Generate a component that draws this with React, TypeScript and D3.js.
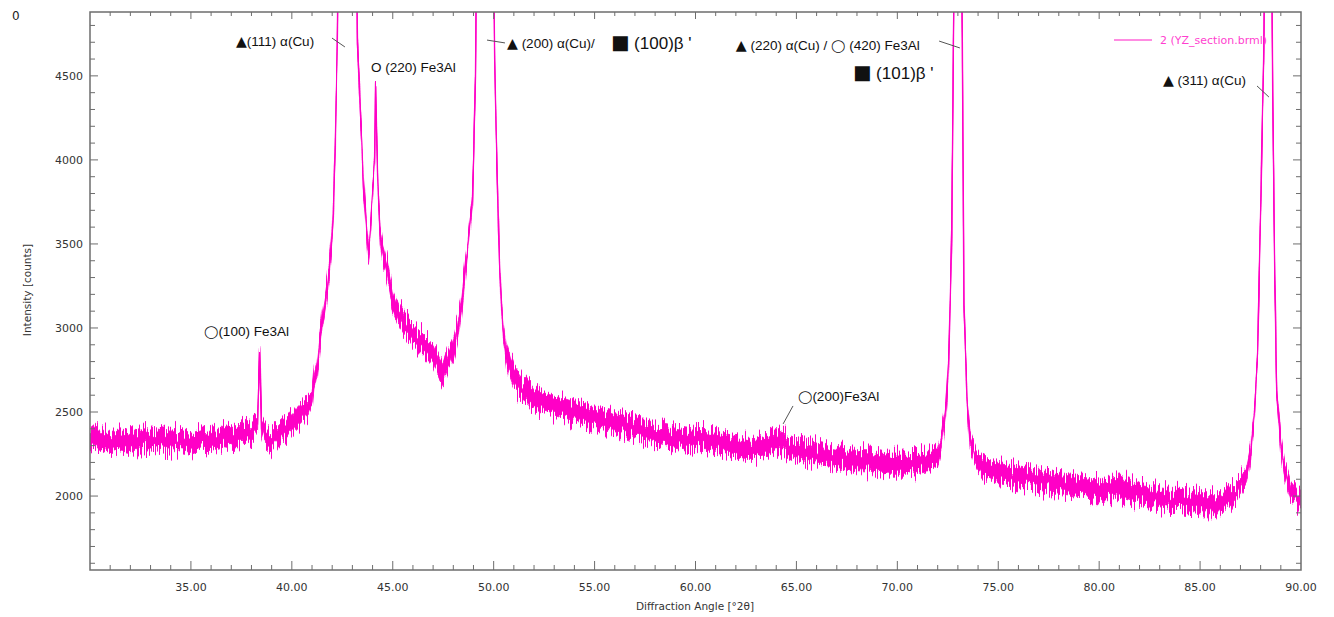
import * as d3 from 'd3';
import React from 'react';

// XRD scan: [angle °2θ, counts, noise half-width]
// off-scale peak tops get a large value and are clipped by the frame
const lowAngle: [number, number, number][] = [
  [30.0, 2360, 60], [30.5, 2350, 60], [31.0, 2330, 60], [31.5, 2340, 60],
  [32.0, 2330, 60], [32.5, 2320, 60], [33.0, 2340, 60], [33.5, 2330, 60],
  [34.0, 2320, 60], [34.5, 2330, 60], [35.0, 2320, 60], [35.5, 2340, 60],
  [36.0, 2330, 60], [36.5, 2350, 60], [37.0, 2340, 60], [37.5, 2370, 60],
  [38.0, 2390, 60], [38.3, 2420, 50], [38.4, 2880, 0], [38.5, 2420, 40],
  [38.7, 2360, 60], [39.0, 2330, 60], [39.5, 2390, 60], [40.0, 2430, 60],
  [40.5, 2490, 60], [40.8, 2530, 60], [41.0, 2580, 55],
];
const peak111: [number, number, number][] = [
  [41.1, 2700, 50], [41.25, 2790, 50], [41.5, 3050, 45], [41.75, 3230, 45],
  [41.9, 3400, 40], [42.05, 3680, 30], [42.15, 4060, 20], [42.25, 4700, 0],
  [42.3, 5200, 0], [42.75, 30000, 0], [43.2, 5200, 0], [43.25, 4700, 0],
  [43.4, 4300, 30], [43.55, 3850, 40], [43.7, 3600, 40], [43.8, 3430, 40],
  [43.9, 3600, 40], [44.0, 3820, 30], [44.1, 4000, 20], [44.15, 4450, 0],
  [44.25, 3900, 30], [44.37, 3550, 50],
];
const peak200: [number, number, number][] = [
  [44.5, 3450, 60], [44.72, 3350, 60], [45.0, 3170, 60], [45.3, 3080, 60],
  [45.66, 3010, 60], [46.0, 2960, 60], [46.36, 2920, 60], [46.7, 2880, 60],
  [47.0, 2840, 60], [47.3, 2760, 60], [47.5, 2720, 60], [47.7, 2790, 60],
  [48.0, 2880, 60], [48.2, 2980, 60], [48.35, 3100, 50], [48.5, 3250, 50],
  [48.7, 3460, 40], [48.95, 3760, 30], [49.1, 4500, 0], [49.15, 5200, 0],
  [49.55, 30000, 0], [50.0, 5200, 0], [50.05, 4600, 0], [50.18, 3850, 30],
  [50.3, 3350, 40], [50.48, 2980, 50], [50.65, 2830, 55], [50.82, 2760, 60],
];
const midAngle: [number, number, number][] = [
  [51.0, 2700, 60], [51.3, 2650, 60], [51.7, 2610, 60], [52.0, 2580, 60],
  [52.5, 2560, 60], [53.0, 2540, 60], [53.5, 2520, 60], [54.0, 2500, 60],
  [54.5, 2490, 60], [55.0, 2470, 60], [55.5, 2450, 60], [56.0, 2430, 60],
  [56.5, 2420, 60], [57.0, 2400, 60], [57.5, 2390, 60], [58.0, 2370, 60],
  [58.5, 2360, 60], [59.0, 2350, 60], [59.5, 2340, 60], [60.0, 2330, 60],
  [60.5, 2330, 60], [61.0, 2320, 60], [61.5, 2310, 60], [62.0, 2300, 60],
  [62.5, 2290, 60], [63.0, 2290, 60], [63.5, 2310, 60], [64.0, 2330, 60],
  [64.5, 2300, 60], [65.0, 2270, 60], [65.5, 2260, 60], [66.0, 2250, 60],
  [66.5, 2240, 60], [67.0, 2230, 60], [67.5, 2220, 60], [68.0, 2210, 60],
  [68.5, 2210, 60], [69.0, 2200, 60], [69.5, 2190, 60], [70.0, 2190, 60],
  [70.5, 2190, 60], [71.0, 2200, 60], [71.5, 2210, 60], [72.0, 2240, 55],
];
const peak220: [number, number, number][] = [
  [72.2, 2330, 50], [72.4, 2500, 40], [72.55, 2800, 30], [72.7, 3600, 20],
  [72.78, 4700, 0], [72.82, 5200, 0], [73.0, 30000, 0], [73.18, 5200, 0],
  [73.22, 4700, 0], [73.3, 3170, 20], [73.45, 2570, 30], [73.6, 2330, 40],
  [73.9, 2220, 55],
];
const highAngle: [number, number, number][] = [
  [74.2, 2180, 60], [74.5, 2160, 60], [75.0, 2140, 60], [75.5, 2130, 60],
  [76.0, 2120, 60], [76.5, 2110, 60], [77.0, 2100, 60], [77.5, 2090, 60],
  [78.0, 2070, 60], [78.5, 2060, 60], [79.0, 2050, 60], [79.5, 2040, 60],
  [80.0, 2030, 60], [80.5, 2040, 60], [81.0, 2060, 60], [81.5, 2040, 60],
  [82.0, 2010, 60], [82.5, 2000, 60], [83.0, 1990, 60], [83.5, 1980, 60],
  [84.0, 1980, 60], [84.5, 1970, 60], [85.0, 1960, 60], [85.5, 1960, 60],
  [86.0, 1960, 60], [86.5, 1990, 60],
];
const peak311: [number, number, number][] = [
  [87.0, 2060, 50], [87.3, 2130, 50], [87.5, 2250, 40], [87.7, 2500, 30],
  [87.85, 2850, 20], [88.0, 3700, 10], [88.15, 4600, 0], [88.2, 5200, 0],
  [88.4, 30000, 0], [88.55, 5200, 0], [88.6, 4400, 10], [88.7, 3300, 20],
  [88.8, 2600, 30], [89.0, 2300, 40], [89.2, 2150, 50], [89.5, 2030, 50],
  [89.8, 1980, 50], [90.0, 1960, 50],
];
const scan = [...lowAngle, ...peak111, ...peak200, ...midAngle, ...peak220, ...highAngle, ...peak311];

const xMajor = [35, 40, 45, 50, 55, 60, 65, 70, 75, 80, 85, 90];
const xMinor = d3.range(31, 90, 1);
const yMajor = [2000, 2500, 3000, 3500, 4000, 4500];
const yMinor = d3.range(1600, 4900, 100);

// peak labels: [text, angle, counts, font size]
const labels: [string, number, number, number][] = [
  ['▲(111) α(Cu)', 37.23, 4678, 13.5],
  ['O (220) Fe3Al', 43.92, 4523, 13.5],
  ['▲ (200) α(Cu)/', 50.66, 4666, 13.5],
  ['■ (100)β \'', 55.81, 4660, 17],
  ['▲ (220) α(Cu) / ◯ (420) Fe3Al', 62.0, 4654, 13.5],
  ['■ (101)β \'', 67.8, 4481, 17],
  ['▲ (311) α(Cu)', 83.16, 4446, 13.5],
  ['◯(100) Fe3Al', 35.65, 2952, 13.5],
  ['◯(200)Fe3Al', 65.08, 2566, 13.5],
];
// leader lines: [angle1, counts1, angle2, counts2]
const leaders: [number, number, number, number][] = [
  [41.99, 4725, 42.63, 4672],
  [49.67, 4713, 50.56, 4696],
  [72.07, 4707, 73.1, 4666],
  [87.82, 4440, 88.41, 4374],
  [64.34, 2429, 64.83, 2536],
];

const W = 1334, H = 617;
const frame = { left: 90, right: 1301, top: 12, bottom: 570 };
const pink = '#ff00c6';
const axisGrey = '#6d6d6d';
const tickFont = 'DejaVu Sans, Verdana, sans-serif';
const noteFont = 'Liberation Sans, Arial, sans-serif';

// symbols in the labels are drawn a bit larger than the words
function labelSpans(text: string, size: number) {
  const parts = text.split(/([▲■◯])/).filter(p => p !== '');
  return parts.map((p, i) => {
    if (p === '▲') return <tspan key={i} fontFamily="DejaVu Sans" fontSize={size * 1.05}>{p}</tspan>;
    if (p === '■') return <tspan key={i} fontFamily="DejaVu Sans" fontSize={size * 1.15}>{p}</tspan>;
    if (p === '◯') return <tspan key={i} fontFamily="DejaVu Sans" fontSize={size * 0.95}>{p}</tspan>;
    return <tspan key={i}>{p}</tspan>;
  });
}

export default function App() {
  const x = d3.scaleLinear().domain([30, 90]).range([frame.left, frame.right]);
  const y = d3.scaleLinear().domain([1560, 4880]).range([frame.bottom, frame.top]);

  const band = d3.area<[number, number, number]>()
    .x(d => x(d[0]))
    .y0(d => y(d[1] - d[2]))
    .y1(d => y(d[1] + d[2]));
  const line = d3.line<[number, number, number]>()
    .x(d => x(d[0]))
    .y(d => y(d[1]));

  const pw = frame.right - frame.left, ph = frame.bottom - frame.top;

  return (
    <svg width={W} height={H} style={{ position: 'absolute', left: 0, top: 0, background: '#fff' }}>
      <defs>
        <clipPath id="plot">
          <rect x={frame.left} y={frame.top} width={pw} height={ph} />
        </clipPath>
        {/* counting-noise texture: jitter the trace vertically, soften the spikes a little */}
        <filter id="grain" filterUnits="userSpaceOnUse" x={0} y={0} width={W} height={H}
          colorInterpolationFilters="sRGB">
          <feTurbulence type="fractalNoise" baseFrequency="0.8 0.015" numOctaves={2} seed={7} result="t" />
          <feColorMatrix in="t" type="matrix"
            values="1 0 0 0 0  0 0 0 0 0.5  0 0 0 0 0  0 0 0 0 1" result="m" />
          <feDisplacementMap in="SourceGraphic" in2="m" scale={34} xChannelSelector="G" yChannelSelector="R" />
          <feGaussianBlur stdDeviation="0.55 0.2" />
        </filter>
        <mask id="trace" maskUnits="userSpaceOnUse" x={0} y={0} width={W} height={H}>
          <rect x={0} y={0} width={W} height={H} fill="#000" />
          <g filter="url(#grain)">
            <path d={band(scan) ?? ''} fill="#fff" stroke="#fff" strokeWidth={0.8} />
            <path d={line(scan) ?? ''} fill="none" stroke="#fff" strokeWidth={1.4} />
          </g>
        </mask>
      </defs>

      <text x={12} y={20} fontFamily={tickFont} fontSize={12} fill="#222">0</text>

      <g clipPath="url(#plot)">
        <rect x={frame.left} y={frame.top} width={pw} height={ph} fill={pink} mask="url(#trace)" />
      </g>

      {/* frame and ticks */}
      <rect x={frame.left} y={frame.top} width={pw} height={ph} fill="none" stroke={axisGrey} strokeWidth={1.5} />
      {xMinor.map(v => {
        const major = v % 5 === 0;
        return (
          <g key={'xt' + v} stroke={axisGrey} strokeWidth={1}>
            <line x1={x(v)} x2={x(v)} y1={frame.bottom} y2={frame.bottom - (major ? 9 : 5)} />
            <line x1={x(v)} x2={x(v)} y1={frame.top} y2={frame.top + (major ? 7 : 4)} />
          </g>
        );
      })}
      {yMinor.map(v => {
        const major = v % 500 === 0;
        return (
          <g key={'yt' + v} stroke={axisGrey} strokeWidth={1}>
            <line x1={frame.left} x2={frame.left + (major ? 8 : 5)} y1={y(v)} y2={y(v)} />
            <line x1={frame.right} x2={frame.right - (major ? 8 : 5)} y1={y(v)} y2={y(v)} />
          </g>
        );
      })}
      {xMajor.map(v => (
        <text key={'xl' + v} x={x(v)} y={591} textAnchor="middle" fontFamily={tickFont} fontSize={11} fill="#333">
          {v.toFixed(2)}
        </text>
      ))}
      {yMajor.map(v => (
        <text key={'yl' + v} x={83} y={y(v) + 4} textAnchor="end" fontFamily={tickFont} fontSize={11} fill="#333">
          {v}
        </text>
      ))}
      <text x={695} y={610} textAnchor="middle" fontFamily={tickFont} fontSize={10.5} fill="#333">
        Diffraction Angle [°2θ]
      </text>
      <text transform="translate(31,290) rotate(-90)" textAnchor="middle" fontFamily={tickFont} fontSize={10.5} fill="#333">
        Intensity [counts]
      </text>

      {/* legend */}
      <line x1={1114} x2={1152} y1={40} y2={40} stroke="#ff66d8" strokeWidth={1.5} />
      <text x={1160} y={44} fontFamily={tickFont} fontSize={11} fill="#ff3fcf">2 (YZ_section.brml)</text>

      {/* peak annotations */}
      {leaders.map((l, i) => (
        <line key={'ld' + i} x1={x(l[0])} y1={y(l[1])} x2={x(l[2])} y2={y(l[3])} stroke="#555" strokeWidth={1} />
      ))}
      {labels.map((l, i) => (
        <text key={'lb' + i} x={x(l[1])} y={y(l[2])} fontFamily={noteFont} fontSize={l[3]} fill="#111">
          {labelSpans(l[0], l[3])}
        </text>
      ))}
    </svg>
  );
}
